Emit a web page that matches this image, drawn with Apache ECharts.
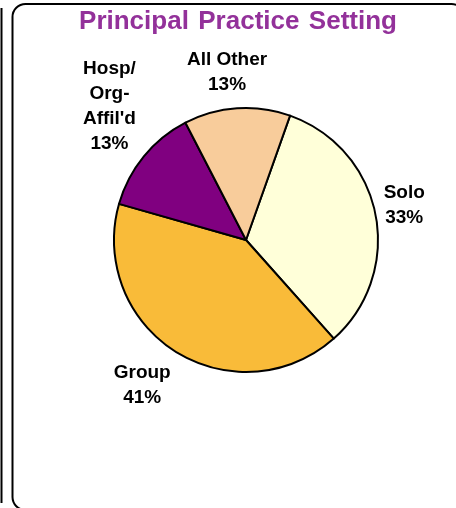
<!DOCTYPE html>
<html><head><meta charset="utf-8">
<script src="https://cdn.jsdelivr.net/npm/echarts@6/dist/echarts.min.js"></script>
<style>html,body{margin:0;padding:0;background:#fff}#c{width:456px;height:508px}</style>
</head><body><div id="c"></div>
<script>
const title = 'Principal \u200APractice \u200ASetting';
const categories = ['Solo', 'Group', "Hosp/\nOrg-\nAffil'd", 'All Other'];
const values = [33, 41, 13, 13];
const colors = ['#FFFFD9', '#F9BB39', '#800080', '#F8CC9B'];
// label nudges (px) relative to ECharts' default outside label placement
const labelDx = [-16.5, 10.5, 22.5, 36.5];
const labelDy = [-5.5, 17, -59, -16.5];

const chart = echarts.init(document.getElementById('c'), null, {renderer: 'canvas'});
chart.setOption({
  animation: false,
  backgroundColor: '#fff',
  title: {
    text: title, left: 233, top: 4, textAlign: 'center',
    textStyle: {color: '#93319A', fontFamily: 'Liberation Sans, Arial', fontWeight: 'bold', fontSize: 26}
  },
  graphic: [
    {type: 'rect', shape: {x: 12.5, y: 4, width: 452, height: 506, r: 13}, style: {fill: 'none', stroke: '#000', lineWidth: 2}},
    {type: 'line', shape: {x1: 1.5, y1: 8, x2: 1.5, y2: 503}, style: {stroke: '#000', lineWidth: 2}}
  ],
  series: [{
    type: 'pie',
    center: [246, 240],
    radius: 132,
    startAngle: 70.5,
    clockwise: true,
    data: categories.map((c, i) => ({name: c, value: values[i], itemStyle: {color: colors[i]}})),
    itemStyle: {borderColor: '#000', borderWidth: 2},
    label: {
      show: true, position: 'outside',
      formatter: p => p.name + '\n' + p.value + '%',
      fontFamily: 'Liberation Sans, Arial', fontWeight: 'bold', fontSize: 19, color: '#000',
      lineHeight: 25
    },
    labelLine: {show: false, length: 20, length2: 0},
    labelLayout: p => {
      const r = p.labelRect, i = p.dataIndex;
      return {x: r.x + r.width / 2 + labelDx[i], y: r.y + r.height / 2 + labelDy[i], align: 'center', verticalAlign: 'middle'};
    },
    emphasis: {disabled: true}
  }]
});
</script></body></html>
